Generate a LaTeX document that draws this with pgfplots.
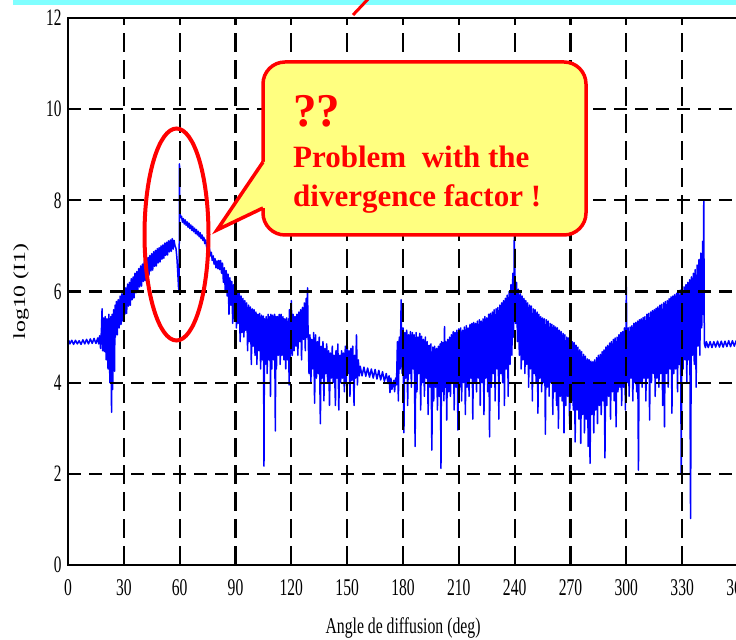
\documentclass[border=0pt]{standalone}
\usepackage{pgfplots}
\pgfplotsset{compat=1.18}
\usepackage{graphicx}
\usepackage{fontspec}
\setmainfont{Liberation Serif}
\definecolor{calloutfill}{RGB}{255,255,128}
\definecolor{banner}{RGB}{128,255,255}

\begin{document}
\begin{tikzpicture}[x=1bp,y=1bp]
\useasboundingbox (0,0) rectangle (736,640);
\fill[banner] (13,635) rectangle (736,640);

\begin{axis}[
    at={(68bp,75bp)}, anchor=south west,
    scale only axis, width=670bp, height=547bp,
    xmin=0, xmax=360, ymin=0, ymax=12,
    xtick={0,30,...,360}, ytick={0,2,...,12},
    grid=major, axis on top,
    x grid style={black, line width=2.3bp, dash pattern=on 19bp off 8bp},
    y grid style={black, line width=2.3bp, dash pattern=on 13bp off 8bp},
    axis line style={line width=2.6bp},
    major tick length=0pt,
    /pgf/number format/assume math mode=true,
    xticklabel={\scalebox{0.65}[1]{\pgfmathprintnumber{\tick}}},
    yticklabel={\scalebox{0.65}[1]{\pgfmathprintnumber{\tick}}},
    xticklabel style={font=\fontsize{24bp}{26bp}\selectfont, yshift=-11bp},
    yticklabel style={font=\fontsize{23.5bp}{26bp}\selectfont, xshift=-3bp},
    xlabel={\scalebox{0.7}[1]{Angle de diffusion (deg)}},
    xlabel style={font=\fontsize{22.5bp}{26bp}\selectfont,
        at={(axis description cs:0.5,0)}, anchor=base, yshift=-69bp},
    ylabel={\scalebox{1.4}[1]{log10 (I1)}},
    ylabel style={font=\fontsize{17bp}{20bp}\selectfont,
        at={(axis description cs:-0.0701,0.5)}, anchor=center},
]

% intensity vs scattering angle
\addplot[blue, line width=1.5bp, line join=round, mark=none] coordinates {
(0,4.84) (0.5,4.92) (1,4.85) (2,4.93) (3,4.84) (4,4.93) (5,4.85) (6,4.92) (7,4.84) (8,4.94) (9,4.85) (10,4.95) (11,4.85) (12,4.96) (13,4.86) (14,4.97) (15,4.86) (16,4.98) (16.5,4.85) (17,5.03)
(17.5,4.75) (18,5.2) (18.3,5.62) (18.6,4.7) (19,5.42) (19.5,4.68) (20,5.45) (20.5,4.5) (21,5.4) (21.5,4.3) (22,5.5) (22.5,4.0) (23,5.45) (23.4,3.35) (23.7,5.5) (24,3.85) (24.5,5.6) (25,4.25) (25.3,5.7)
(25.5,5.0) (26,5.78) (26.5,5.05) (27,5.82) (27.5,5.2) (28,5.9) (28.5,5.28) (29,5.95) (29.5,5.35) (30,6.03) (30.5,5.5) (31,6.08) (31.5,5.52) (32,6.16) (32.5,5.68) (33,6.2) (33.5,5.7) (34,6.28) (34.5,5.82) (35,6.32) (35.5,5.86) (36,6.4) (36.5,5.97) (37,6.44) (37.5,6.0) (38,6.5) (38.5,6.1) (39,6.56) (39.5,6.12) (40,6.6) (40.5,6.22) (41,6.66) (41.5,6.24) (42,6.7) (42.5,6.33) (43,6.75) (43.5,6.36) (44,6.79) (44.5,6.45) (45,6.83) (45.5,6.47) (46,6.87) (46.5,6.55) (47,6.9) (47.5,6.56) (48,6.94) (48.5,6.63) (49,6.96) (49.5,6.65) (50,7.0) (50.5,6.71) (51,7.02) (51.5,6.73) (52,7.06) (52.5,6.79) (53,7.08) (53.5,6.8) (54,7.11) (54.5,6.87) (55,7.13) (55.5,6.88) (56,7.16) (56.5,6.93) (57,7.12)
(57.5,7.0) (58,6.95) (58.5,6.75) (59,6.4) (59.4,6.08) (59.7,6.02) (59.9,8.8) (60.1,7.85) (60.4,7.62)
(61,7.65) (61.5,7.52) (62,7.6) (62.5,7.48) (63,7.57) (63.5,7.45) (64,7.53) (64.5,7.41) (65,7.5) (65.5,7.38) (66,7.46) (66.5,7.34) (67,7.43) (67.5,7.31) (68,7.39) (68.5,7.27) (69,7.36) (69.5,7.24) (70,7.32) (70.5,7.2) (71,7.29) (71.5,7.16) (72,7.24) (72.5,7.12) (73,7.19) (73.5,7.05) (74,7.13) (74.5,6.97) (75,7.05) (75.5,6.88) (76,6.95) (76.5,6.78) (77,6.86) (77.5,6.68) (78,6.78) (78.5,6.6) (79,6.72) (79.5,6.52) (80,6.67) (80.5,6.5) (81,6.68) (81.5,6.48) (82,6.68) (82.5,6.4)
(83,6.62) (83.5,6.2) (84,6.52) (84.5,6.0) (85,6.46) (85.5,5.9) (86,6.38) (86.5,5.5) (87,6.3) (87.5,5.7) (88,6.22) (88.5,5.3) (89,6.15) (89.5,5.4) (90,6.1) (90.5,5.2) (91,6.0) (91.5,5.3) (92,5.96) (92.5,4.9) (93,5.9) (93.5,5.1) (94,5.85) (94.5,5.0) (95,5.8) (95.5,5.15) (96,5.75) (96.5,4.7) (97,5.7) (97.5,4.9) (98,5.66) (98.5,4.4) (99,5.62) (99.5,4.8) (100,5.6) (100.5,4.6) (101,5.55) (101.5,4.4) (102,5.5) (102.5,4.7) (103,5.52) (103.5,4.3) (104,5.48) (104.5,4.5) (105,5.46) (105.3,2.17) (105.6,5.4) (106,4.4) (106.5,5.45) (107,4.2) (107.5,5.5) (108,4.5) (108.5,5.45) (108.8,3.7) (109,5.5) (109.5,4.3) (110,5.48) (110.5,4.5) (111,5.5) (111.4,2.94) (111.7,5.45) (112,4.3) (112.5,5.45) (113,4.6) (113.5,5.5) (114,4.4) (114.5,5.5) (115,4.6) (115.5,5.45) (116,4.5) (116.5,5.4) (117,4.3) (117.5,5.42) (118,4.5) (118.5,5.4) (118.8,3.95) (119,5.6) (119.5,4.5) (120,5.8) (120.5,4.6) (121,5.5) (121.5,4.7) (122,5.45) (122.5,4.8) (123,5.5) (123.5,4.6) (124,5.55) (124.5,4.9) (125,5.6) (125.5,4.5) (126,5.65) (126.5,4.95) (127,5.75) (127.5,4.7) (128,5.85) (128.3,5.0) (128.7,6.08) (129,5.1)
(129.5,4.2) (130,5.05) (130.5,4.0) (131,4.95) (131.5,4.3) (132,5.1) (132.5,3.55) (133,5.05) (133.5,4.1) (134,4.9) (134.5,4.2) (135,5.0) (135.6,3.1) (136,4.8) (136.5,4.1) (137,4.9) (137.5,3.6) (138,4.75) (138.5,4.2) (139,4.85) (139.5,4.0) (140,4.7) (140.5,3.5) (141,4.65) (141.5,4.1) (142,4.8) (142.5,4.0) (143,4.6) (143.7,3.5) (144,4.7) (144.5,4.1) (145,4.85) (145.5,3.4) (146,4.6) (146.5,4.0) (147,4.7) (147.5,4.1) (148,4.65) (148.5,3.8) (149,4.8) (149.5,4.0) (150,4.85) (150.5,4.2) (151,4.7) (151.5,3.7) (152,4.75) (152.5,4.05) (153,4.8) (153.7,3.5) (154,4.6) (154.5,4.1) (155,5.05) (155.5,3.95) (156,4.5) (156.5,4.15)
(157,4.36) (158,4.15) (159,4.34) (160,4.14) (161,4.32) (162,4.12) (163,4.3) (164,4.1) (165,4.29) (166,4.08) (167,4.27) (168,4.06) (169,4.24) (170,4.03) (171,4.2) (172,3.98) (172.5,4.15) (173,3.78) (173.5,4.1) (174,3.85) (175,4.05) (175.5,3.8) (176,4.1) (176.5,3.95) (177,4.9) (177.5,3.6) (178,5.0) (178.5,4.3) (179,5.82) (179.5,4.2)
(180,5.2) (180.5,2.9) (181,5.1) (181.5,4.1) (182,5.15) (182.5,3.5) (183,5.05) (183.5,4.2) (184,5.12) (184.5,3.9) (185,5.1) (185.5,4.3) (186,5.05) (186.5,2.6) (187,5.1) (187.5,3.8) (188,5.0) (188.5,4.2) (189,5.08) (189.5,3.4) (190,5.02) (190.5,4.0) (191,4.95) (191.5,3.7) (192,5.0) (192.5,4.1) (193,4.9) (193.5,3.3) (194,4.82) (194.5,3.9) (195,4.85) (195.5,2.52) (196,4.78) (196.5,3.6) (197,4.8) (197.5,3.9) (198,4.75) (198.5,3.4) (199,4.8) (199.5,3.7) (200,4.85) (200.4,2.12) (200.7,4.9) (201,3.8) (201.5,4.88) (202,3.6) (202.3,5.23) (202.6,3.9) (203,4.9) (203.5,3.18) (204,4.95) (204.5,3.8) (205,5.0) (205.5,3.7) (206,5.05) (206.5,4.0) (207,5.12) (207.5,3.4) (208,5.1) (208.5,3.9) (209,5.15) (209.5,2.96) (210,5.18) (210.5,3.9) (211,5.2) (211.5,3.6) (212,5.15) (212.5,4.0) (213,5.22) (213.5,3.3) (214,5.25) (214.5,3.9) (215,5.2) (215.5,3.7) (216,5.28) (216.5,4.1) (217,5.3) (217.5,3.2) (218,5.32) (218.5,4.0) (219,5.3) (219.5,3.8) (220,5.35) (220.5,4.1) (221,5.38) (221.5,3.5) (222,5.35) (222.5,4.0) (223,5.4) (223.5,3.3) (224,5.45) (224.5,4.1) (225,5.42) (225.5,3.8) (226,5.5) (226.5,2.81) (227,5.52) (227.5,3.9) (228,5.55) (228.5,4.2) (229,5.6) (229.5,3.6) (230,5.62) (230.5,4.3) (231,5.65) (231.5,3.2) (232,5.7) (232.5,4.2) (233,5.75) (233.5,4.0) (234,5.8) (234.5,3.5) (235,5.85) (235.5,4.3) (236,5.92) (236.5,3.7) (237,6.0) (237.5,4.4) (238,6.15) (238.5,4.6) (239,6.4) (239.4,5.0) (239.8,7.3) (240.1,6.3)
(240.5,5.3) (241,6.2) (241.5,4.9) (242,6.05) (242.5,4.6) (243,5.95) (243.5,4.3) (244,5.9) (244.5,4.5) (245,5.85) (245.5,4.2) (246,5.8) (246.5,4.4) (247,5.75) (247.5,3.9) (248,5.7) (248.5,4.3) (249,5.68) (249.5,3.6) (250,5.62) (250.5,4.2) (251,5.6) (251.5,4.0) (252,5.55) (252.5,3.33) (253,5.5) (253.5,4.1) (254,5.45) (254.5,3.8) (255,5.42) (255.5,4.0) (256,5.4) (256.5,2.87) (257,5.38) (257.5,3.9) (258,5.35) (258.5,3.7) (259,5.3) (259.5,4.0) (260,5.28) (260.5,3.3) (261,5.25) (261.5,3.8) (262,5.22) (262.5,3.5) (263,5.2) (263.5,3.0) (264,5.15) (264.5,3.7) (265,5.12) (265.5,3.6) (266,5.08) (266.5,2.9) (267,5.05) (267.5,3.5) (268,5.0) (268.5,3.7) (269,4.98) (269.5,3.1) (270,4.95) (270.5,3.6) (271,4.9) (271.5,3.4) (272,4.88) (272.5,2.7) (273,4.82) (273.5,3.4) (274,4.78) (274.5,3.2) (275,4.72) (275.5,2.67) (276,4.68) (276.5,3.3) (277,4.62) (277.5,2.9) (278,4.58) (278.5,3.2) (279,4.52) (279.5,2.6) (280,4.5) (280.5,2.23) (281,4.47) (281.5,3.3) (282,4.46) (282.5,2.9)
(283,4.5) (283.5,3.4) (284,4.55) (284.5,3.1) (285,4.6) (285.5,3.5) (286,4.62) (286.5,3.3) (287,4.68) (287.5,3.6) (288,4.72) (288.5,2.35) (289,4.78) (289.5,3.5) (290,4.82) (290.5,3.7) (291,4.87) (291.5,3.2) (292,4.9) (292.5,3.8) (293,4.95) (293.5,3.6) (294,4.98) (294.5,3.03) (295,5.0) (295.5,3.8) (296,5.05) (296.5,3.9) (297,5.1) (297.5,3.5) (298,5.12) (298.5,3.9) (299,5.2) (299.5,3.4) (300,6.1) (300.5,4.0) (301,5.2) (301.5,3.7) (302,5.22) (302.5,4.1) (303,5.25) (303.5,3.6) (304,5.3) (304.5,4.0) (305,5.32) (305.5,3.8) (306,5.35) (306.5,2.08) (307,5.38) (307.5,4.0) (308,5.4) (308.5,3.9) (309,5.43) (309.5,4.1) (310,5.45) (310.5,3.6) (311,5.5) (311.5,4.1) (312,5.52) (312.5,3.18) (313,5.55) (313.5,4.0) (314,5.58) (314.5,4.2) (315,5.6) (315.5,3.7) (316,5.63) (316.5,4.1) (317,5.66) (317.5,3.9) (318,5.7) (318.5,4.2) (319,5.72) (319.5,3.5) (320,5.75) (320.5,3.03) (321,5.78) (321.5,4.2) (322,5.8) (322.5,3.9) (323,5.84) (323.5,4.3) (324,5.88) (324.5,3.33) (325,5.9) (325.5,4.2) (326,5.93) (326.5,4.3) (327,5.96) (327.5,3.8) (328,6.0) (328.5,4.4) (329,6.03) (329.5,2.0) (330,6.06) (330.5,4.3) (331,6.1) (331.5,4.5) (332,6.15) (332.5,4.0) (333,6.2) (333.5,4.5) (334,6.26) (334.5,1.02) (335,6.32) (335.5,4.6) (336,6.4) (336.5,4.4) (337,6.48) (337.5,3.9) (338,6.58) (338.5,4.8) (339,6.7) (339.5,4.6) (340,6.84) (340.5,5.2) (341,7.1) (341.3,5.5) (341.6,8.0) (341.9,4.86)
(342.5,4.77) (343,4.9) (344,4.77) (345,4.9) (346,4.77) (347,4.9) (348,4.78) (349,4.91) (350,4.78) (351,4.91) (352,4.78) (353,4.91) (354,4.79) (355,4.92) (356,4.79) (357,4.92) (358,4.8) (359,4.92) (360,4.8)
};
\end{axis}

% annotations laid over the plot
\draw[red, line width=4bp] (176.5,405.5) ellipse [x radius=32bp, y radius=106bp];
\draw[red, line width=3.5bp, fill=calloutfill, rounded corners=22bp] (263,405) rectangle (586,578);
\fill[calloutfill] (263,478) -- (217,410) -- (263,432) -- (268,432) -- (268,478) -- cycle;
\draw[red, line width=3.5bp, line join=miter] (263,478) -- (217,410) -- (263,432);
\node[anchor=base west, inner sep=0, text=red, font=\fontsize{47bp}{50bp}\selectfont\bfseries] at (293,513) {??};
\node[anchor=base west, inner sep=0, text=red, font=\fontsize{31bp}{34bp}\selectfont\bfseries] at (293,472) {Problem\ \ with the};
\node[anchor=base west, inner sep=0, text=red, font=\fontsize{31bp}{34bp}\selectfont\bfseries] at (293,433) {divergence factor !};
\draw[red, line width=3bp] (353,625) -- (370,643);
\end{tikzpicture}
\end{document}
